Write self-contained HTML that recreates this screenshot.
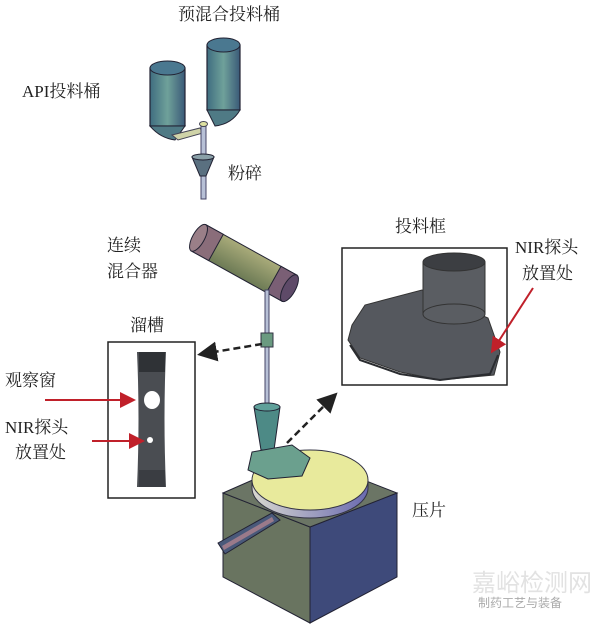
<!DOCTYPE html>
<html><head><meta charset="utf-8"><style>
body{margin:0;background:#fff;width:600px;height:628px;overflow:hidden}
svg{display:block}
text{font-family:"Liberation Serif","Noto Serif CJK SC",serif;fill:#222}
</style></head><body>
<svg width="600" height="628" viewBox="0 0 600 628">
<defs>
<linearGradient id="cyl" x1="0" x2="1"><stop offset="0" stop-color="#3f6d80"/><stop offset="0.5" stop-color="#6fa19a"/><stop offset="1" stop-color="#3a5a78"/></linearGradient>
<linearGradient id="mix" x1="0" y1="0" x2="0" y2="1"><stop offset="0" stop-color="#a9ab7a"/><stop offset="1" stop-color="#6c7a55"/></linearGradient>
<linearGradient id="edge" x1="0" x2="1"><stop offset="0" stop-color="#d8d8d0"/><stop offset="1" stop-color="#6a6ab0"/></linearGradient>
<marker id="ah" markerWidth="8" markerHeight="8" refX="6" refY="4" orient="auto"><path d="M0,0 L8,4 L0,8z" fill="#222"/></marker>
<marker id="rh" markerWidth="8" markerHeight="8" refX="6" refY="4" orient="auto"><path d="M0,0 L8,4 L0,8z" fill="#c0202a"/></marker>
</defs>
<text x="229" y="20" font-size="17" text-anchor="middle">预混合投料桶</text>
<text x="22" y="97" font-size="17">API投料桶</text>
<text x="228" y="179" font-size="17">粉碎</text>
<text x="107" y="251" font-size="17">连续</text>
<text x="107" y="277" font-size="17">混合器</text>
<text x="130" y="331" font-size="17">溜槽</text>
<text x="395" y="232" font-size="17">投料框</text>
<text x="515" y="253" font-size="17">NIR探头</text>
<text x="522" y="279" font-size="17">放置处</text>
<text x="5" y="386" font-size="17">观察窗</text>
<text x="5" y="433" font-size="17">NIR探头</text>
<text x="15" y="458" font-size="17">放置处</text>
<text x="412" y="516" font-size="17">压片</text>
<text x="472" y="591" font-size="24" style="fill:#e2e2e2;font-family:'Liberation Sans','Noto Sans CJK SC',sans-serif">嘉峪检测网</text>
<text x="478" y="607" font-size="12" style="fill:#aaa;font-family:'Liberation Sans','Noto Sans CJK SC',sans-serif">制药工艺与装备</text>

<rect x="150" y="68" width="35" height="58" fill="url(#cyl)" stroke="#223" stroke-width="1.2"/>
<ellipse cx="167.5" cy="68" rx="17.5" ry="7" fill="#4a7890" stroke="#223"/>
<path d="M150,126 Q160,138 175,140 L185,126z" fill="#4f7a85" stroke="#223"/>
<path d="M172,135 L200,128 L203,133 L178,140z" fill="#cfd3a8" stroke="#445"/>
<rect x="207" y="45" width="33" height="65" fill="url(#cyl)" stroke="#223" stroke-width="1.2"/>
<ellipse cx="223.5" cy="45" rx="16.5" ry="7" fill="#4a7890" stroke="#223"/>
<path d="M207,110 L240,110 Q232,124 215,126z" fill="#4f7a85" stroke="#223"/>
<rect x="201" y="124" width="5" height="75" fill="#b7c0d6" stroke="#446"/>
<ellipse cx="203.5" cy="124" rx="4" ry="2.5" fill="#dde0a0" stroke="#445"/>
<path d="M192,157 L214,157 L206,176 L200,176z" fill="#5a7080" stroke="#223"/>
<ellipse cx="203" cy="157" rx="11" ry="3" fill="#8aa0a8" stroke="#223"/>
<g transform="translate(244,263) rotate(29)">
<rect x="-52" y="-15" width="104" height="30" fill="url(#mix)" stroke="#223"/>
<rect x="-52" y="-15" width="20" height="30" fill="#8a6d7a" stroke="#223"/>
<rect x="34" y="-15" width="18" height="30" fill="#7a5f75" stroke="#223"/>
<ellipse cx="-52" cy="0" rx="6" ry="15" fill="#9a7f88" stroke="#223"/>
<ellipse cx="52" cy="0" rx="6" ry="15" fill="#5e4a68" stroke="#223"/>
</g>
<rect x="265" y="290" width="4" height="118" fill="#b7c0d6" stroke="#446"/>
<rect x="261" y="333" width="12" height="14" fill="#6a9a80" stroke="#334"/>

<path d="M223,493 L310,527 L310,623 L223,577z" fill="#697460" stroke="#223"/>
<path d="M310,527 L397,493 L397,577 L310,623z" fill="#3e4a7a" stroke="#223"/>
<path d="M223,493 L305,457 L397,493 L310,527z" fill="#6b7565" stroke="#223"/>
<path d="M252,480 L252,488 A58,30 0 0 0 368,488 L368,480z" fill="url(#edge)" stroke="#334"/>
<ellipse cx="310" cy="480" rx="58" ry="30" fill="#e8ea9c" stroke="#334"/>
<path d="M254,407 L280,407 L274,450 L261,450z" fill="#4d8a86" stroke="#223"/>
<ellipse cx="267" cy="407" rx="13" ry="4" fill="#5fa09a" stroke="#223"/>
<path d="M252,452 L292,445 L310,458 L302,476 L268,479 L248,470z" fill="#6ba08e" stroke="#223"/>
<path d="M218,543 L272,513 L280,520 L225,554z" fill="#49597a" stroke="#223"/>
<path d="M222,546 L272,517 L274,521 L224,550z" fill="#9a7a8a"/>

<line x1="262" y1="344" x2="202" y2="354" stroke="#222" stroke-width="2.5" stroke-dasharray="7,4" marker-end="url(#ah)"/>
<line x1="287" y1="443" x2="334" y2="396" stroke="#222" stroke-width="2.5" stroke-dasharray="7,4" marker-end="url(#ah)"/>

<rect x="108" y="342" width="87" height="156" fill="#fff" stroke="#222" stroke-width="1.5"/>
<path d="M137,352 L166,352 Q163,418 166,487 L137,487 Q140,418 137,352z" fill="#4a4d52"/>
<rect x="139" y="352" width="26" height="20" fill="#2f3236"/>
<rect x="139" y="470" width="26" height="17" fill="#3a3d42"/>
<ellipse cx="152" cy="400" rx="8" ry="9" fill="#fff"/>
<circle cx="150" cy="440" r="3" fill="#fff"/>
<line x1="45" y1="400" x2="132" y2="400" stroke="#c0202a" stroke-width="2" marker-end="url(#rh)"/>
<line x1="92" y1="441" x2="141" y2="441" stroke="#c0202a" stroke-width="2" marker-end="url(#rh)"/>

<rect x="342" y="248" width="165" height="137" fill="#fff" stroke="#222" stroke-width="1.5"/>
<path d="M352,325 L365,305 L422,290 L488,318 L500,352 L494,375 L440,380 L400,372 L360,358 L348,340z" fill="#55585e" stroke="#333"/>
<path d="M350,345 L360,360 L400,374 L440,380 L490,374 L498,355" fill="none" stroke="#2a2c30" stroke-width="2"/>
<rect x="423" y="262" width="62" height="52" fill="#5a5d62" stroke="#333"/>
<ellipse cx="454" cy="314" rx="31" ry="10" fill="#5a5d62" stroke="#333"/>
<ellipse cx="454" cy="262" rx="31" ry="9" fill="#3c3e42" stroke="#333"/>
<line x1="533" y1="288" x2="493" y2="350" stroke="#c0202a" stroke-width="2" marker-end="url(#rh)"/>
</svg>
</body></html>
